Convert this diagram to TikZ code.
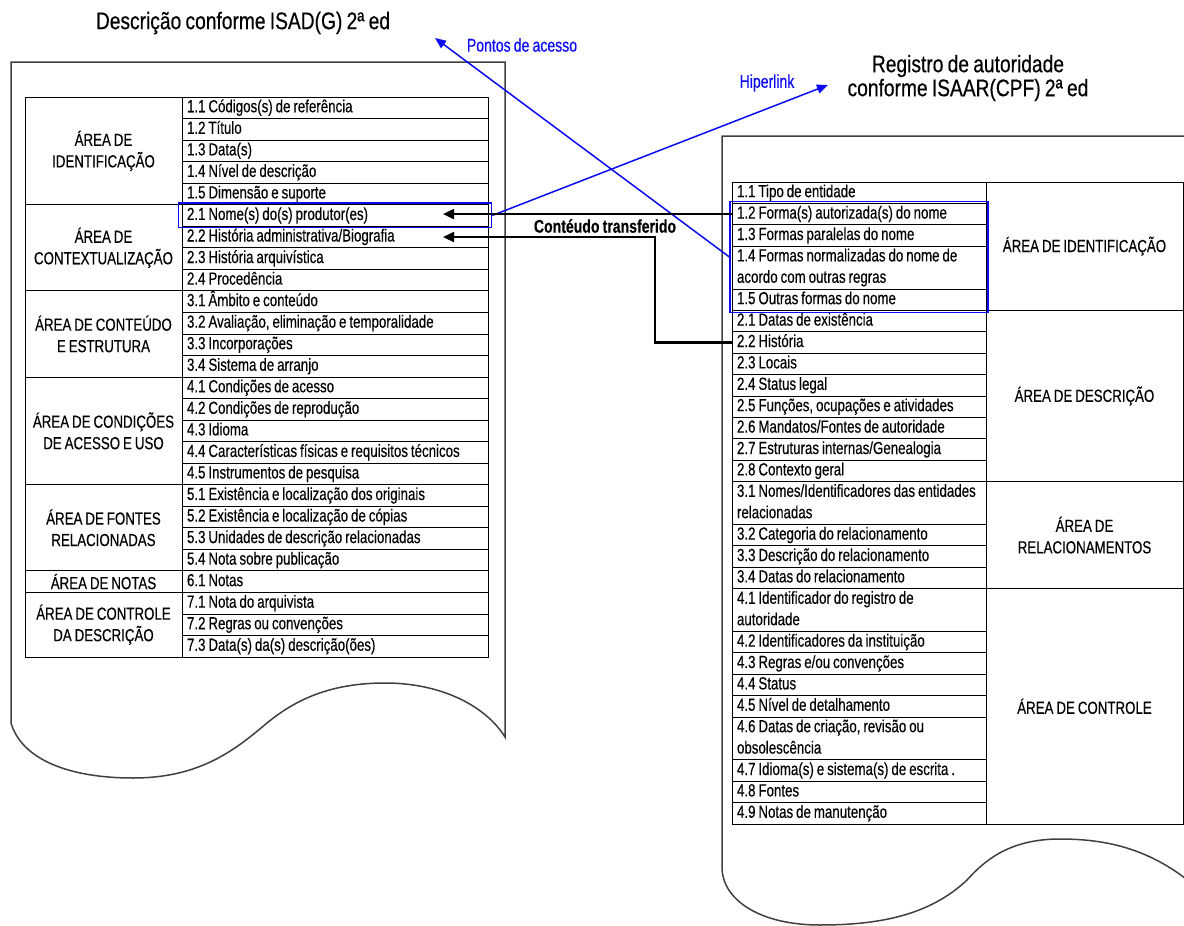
\documentclass[tikz,border=0pt]{standalone}
\usepackage{fontspec}
\setmainfont{Liberation Sans}[FakeStretch=0.76,WordSpace=0.8,FakeBold=0.3]
\newfontfamily\titlefont{Liberation Sans}[FakeStretch=0.80,WordSpace=0.8,FakeBold=0.4]
\usetikzlibrary{arrows.meta,fit}
\definecolor{linkblue}{RGB}{10,10,245}
\begin{document}
\begin{tikzpicture}[x=1pt,y=-1pt,
  docframe/.style={draw=black!75,line width=1.5pt},
  cellbase/.style={draw,line width=0.8pt,outer sep=0pt,anchor=north west,inner xsep=5pt,inner ysep=0pt,
    font=\fontsize{17.5}{21.4}\selectfont},
  lcell/.style={cellbase,text width=296pt,align=flush left,minimum height=21.54pt,text height=12.5pt,text depth=3.5pt},
  rcell/.style={cellbase,text width=244pt,align=flush left,minimum height=21.4pt,text height=12.5pt,text depth=3.5pt},
  rcelltwo/.style={rcell,minimum height=42.8pt,text depth=24.9pt},
  lgroup/.style={cellbase,inner xsep=0pt,minimum width=157pt,align=center,font=\fontsize{17.5}{21.5}\selectfont},
  rgroup/.style={cellbase,inner xsep=0pt,minimum width=197pt,align=center,font=\fontsize{17.5}{21.5}\selectfont},
  bluebox/.style={draw=linkblue,line width=1.5pt},
  bluearrow/.style={draw=linkblue,line width=1.5pt,-{Triangle[length=11pt,width=9pt]}},
  blackarrow/.style={draw=black,line width=2.2pt,-{Triangle[length=11pt,width=10pt]}},
  title/.style={font=\titlefont\fontsize{24}{24}\selectfont,align=center},
  bluelabel/.style={text=linkblue,font=\fontsize{18.5}{20}\selectfont}
]
\useasboundingbox (0,0) rectangle (1184,926);
\fill[white] (0,0) rectangle (1184,926);
\clip (0,0) rectangle (1184,926);

% page outlines with wavy bottom edges
\draw[docframe] (11,723) -- (11,62) -- (505,62) -- (505,737)
  .. controls (485,705) and (440,683) .. (385,683)
  .. controls (330,683) and (295,700) .. (267,723)
  .. controls (235,750) and (200,778) .. (133,778)
  .. controls (70,778) and (22,760) .. (11,723);
\draw[docframe] (1210,900) .. controls (1160,850) and (1110,839) .. (1060,839)
  .. controls (1010,839) and (985,860) .. (967,880)
  .. controls (930,915) and (880,925) .. (820,925)
  .. controls (760,925) and (722,900) .. (722,867)
  -- (722,136) -- (1210,136);

% titles
\node[title] (tisad) at (243,23) {Descrição conforme ISAD(G) 2ª ed};
\node[title] (tisaar) at (968,78) {Registro de autoridade\\conforme ISAAR(CPF) 2ª ed};

% ISAD(G) table: element column
\node[lcell] (l11) at (182,97) {1.1 Códigos(s) de referência};
\node[lcell] (l12) at (l11.south west) {1.2 Título};
\node[lcell] (l13) at (l12.south west) {1.3 Data(s)};
\node[lcell] (l14) at (l13.south west) {1.4 Nível de descrição};
\node[lcell] (l15) at (l14.south west) {1.5 Dimensão e suporte};
\node[lcell] (l21) at (l15.south west) {2.1 Nome(s) do(s) produtor(es)};
\node[lcell] (l22) at (l21.south west) {2.2 História administrativa/Biografia};
\node[lcell] (l23) at (l22.south west) {2.3 História arquivística};
\node[lcell] (l24) at (l23.south west) {2.4 Procedência};
\node[lcell] (l31) at (l24.south west) {3.1 Âmbito e conteúdo};
\node[lcell] (l32) at (l31.south west) {3.2 Avaliação, eliminação e temporalidade};
\node[lcell] (l33) at (l32.south west) {3.3 Incorporações};
\node[lcell] (l34) at (l33.south west) {3.4 Sistema de arranjo};
\node[lcell] (l41) at (l34.south west) {4.1 Condições de acesso};
\node[lcell] (l42) at (l41.south west) {4.2 Condições de reprodução};
\node[lcell] (l43) at (l42.south west) {4.3 Idioma};
\node[lcell] (l44) at (l43.south west) {4.4 Características físicas e requisitos técnicos};
\node[lcell] (l45) at (l44.south west) {4.5 Instrumentos de pesquisa};
\node[lcell] (l51) at (l45.south west) {5.1 Existência e localização dos originais};
\node[lcell] (l52) at (l51.south west) {5.2 Existência e localização de cópias};
\node[lcell] (l53) at (l52.south west) {5.3 Unidades de descrição relacionadas};
\node[lcell] (l54) at (l53.south west) {5.4 Nota sobre publicação};
\node[lcell] (l61) at (l54.south west) {6.1 Notas};
\node[lcell] (l71) at (l61.south west) {7.1 Nota do arquivista};
\node[lcell] (l72) at (l71.south west) {7.2 Regras ou convenções};
\node[lcell] (l73) at (l72.south west) {7.3 Data(s) da(s) descrição(ões)};

% ISAD(G) table: area column
\node[lgroup,minimum height=107.7pt] (lg1) at (25,97) {ÁREA DE\\IDENTIFICAÇÃO};
\node[lgroup,minimum height=86.16pt] (lg2) at (lg1.south west) {ÁREA DE\\CONTEXTUALIZAÇÃO};
\node[lgroup,minimum height=86.16pt] (lg3) at (lg2.south west) {ÁREA DE CONTEÚDO\\E ESTRUTURA};
\node[lgroup,minimum height=107.7pt] (lg4) at (lg3.south west) {ÁREA DE CONDIÇÕES\\DE ACESSO E USO};
\node[lgroup,minimum height=86.16pt] (lg5) at (lg4.south west) {ÁREA DE FONTES\\RELACIONADAS};
\node[lgroup,minimum height=21.54pt] (lg6) at (lg5.south west) {ÁREA DE NOTAS};
\node[lgroup,minimum height=64.62pt] (lg7) at (lg6.south west) {ÁREA DE CONTROLE\\DA DESCRIÇÃO};

% ISAAR(CPF) table: element column
\node[rcell] (r11) at (732,182) {1.1 Tipo de entidade};
\node[rcell] (r12) at (r11.south west) {1.2 Forma(s) autorizada(s) do nome};
\node[rcell] (r13) at (r12.south west) {1.3 Formas paralelas do nome};
\node[rcelltwo] (r14) at (r13.south west) {1.4 Formas normalizadas do nome de\\acordo com outras regras};
\node[rcell] (r15) at (r14.south west) {1.5 Outras formas do nome};
\node[rcell] (r21) at (r15.south west) {2.1 Datas de existência};
\node[rcell] (r22) at (r21.south west) {2.2 História};
\node[rcell] (r23) at (r22.south west) {2.3 Locais};
\node[rcell] (r24) at (r23.south west) {2.4 Status legal};
\node[rcell] (r25) at (r24.south west) {2.5 Funções, ocupações e atividades};
\node[rcell] (r26) at (r25.south west) {2.6 Mandatos/Fontes de autoridade};
\node[rcell] (r27) at (r26.south west) {2.7 Estruturas internas/Genealogia};
\node[rcell] (r28) at (r27.south west) {2.8 Contexto geral};
\node[rcelltwo] (r31) at (r28.south west) {3.1 Nomes/Identificadores das entidades\\relacionadas};
\node[rcell] (r32) at (r31.south west) {3.2 Categoria do relacionamento};
\node[rcell] (r33) at (r32.south west) {3.3 Descrição do relacionamento};
\node[rcell] (r34) at (r33.south west) {3.4 Datas do relacionamento};
\node[rcelltwo] (r41) at (r34.south west) {4.1 Identificador do registro de\\autoridade};
\node[rcell] (r42) at (r41.south west) {4.2 Identificadores da instituição};
\node[rcell] (r43) at (r42.south west) {4.3 Regras e/ou convenções};
\node[rcell] (r44) at (r43.south west) {4.4 Status};
\node[rcell] (r45) at (r44.south west) {4.5 Nível de detalhamento};
\node[rcelltwo] (r46) at (r45.south west) {4.6 Datas de criação, revisão ou\\obsolescência};
\node[rcell] (r47) at (r46.south west) {4.7 Idioma(s) e sistema(s) de escrita .};
\node[rcell] (r48) at (r47.south west) {4.8 Fontes};
\node[rcell] (r49) at (r48.south west) {4.9 Notas de manutenção};

% ISAAR(CPF) table: area column
\node[rgroup,minimum height=128.4pt] (rg1) at (986,182) {ÁREA DE IDENTIFICAÇÃO};
\node[rgroup,minimum height=171.2pt] (rg2) at (rg1.south west) {ÁREA DE DESCRIÇÃO};
\node[rgroup,minimum height=107pt] (rg3) at (rg2.south west) {ÁREA DE\\RELACIONAMENTOS};
\node[rgroup,minimum height=235.4pt] (rg4) at (rg3.south west) {ÁREA DE CONTROLE};

% highlighted name fields
\node[bluebox,fit=(l21),inner xsep=3.5pt,inner ysep=1.5pt] (lbox) {};
\node[bluebox,fit=(r12)(r15),inner sep=2pt] (rbox) {};

% links between the two records
\coordinate (pacc) at (435,38);
\coordinate (hlink) at (828,85);
\draw[bluearrow] (rbox.west) -- (pacc);
\draw[bluearrow] (lbox.east) -- (hlink);
\node[bluelabel] (pacclabel) at (522,45) {Pontos de acesso};
\node[bluelabel] (hlinklabel) at (767,83) {Hiperlink};

% transferred content
\coordinate (tipx) at (443,0);
\coordinate (bend) at (655,0);
\draw[blackarrow] (r12.west) -- (r12.west -| tipx);
\draw[blackarrow] (r22.west) -| (bend |- l22.east) -- (l22.east -| tipx);
\node[font=\fontsize{18.5}{20}\selectfont\bfseries] (transf) at (605,226) {Contéudo transferido};
\end{tikzpicture}
\end{document}
